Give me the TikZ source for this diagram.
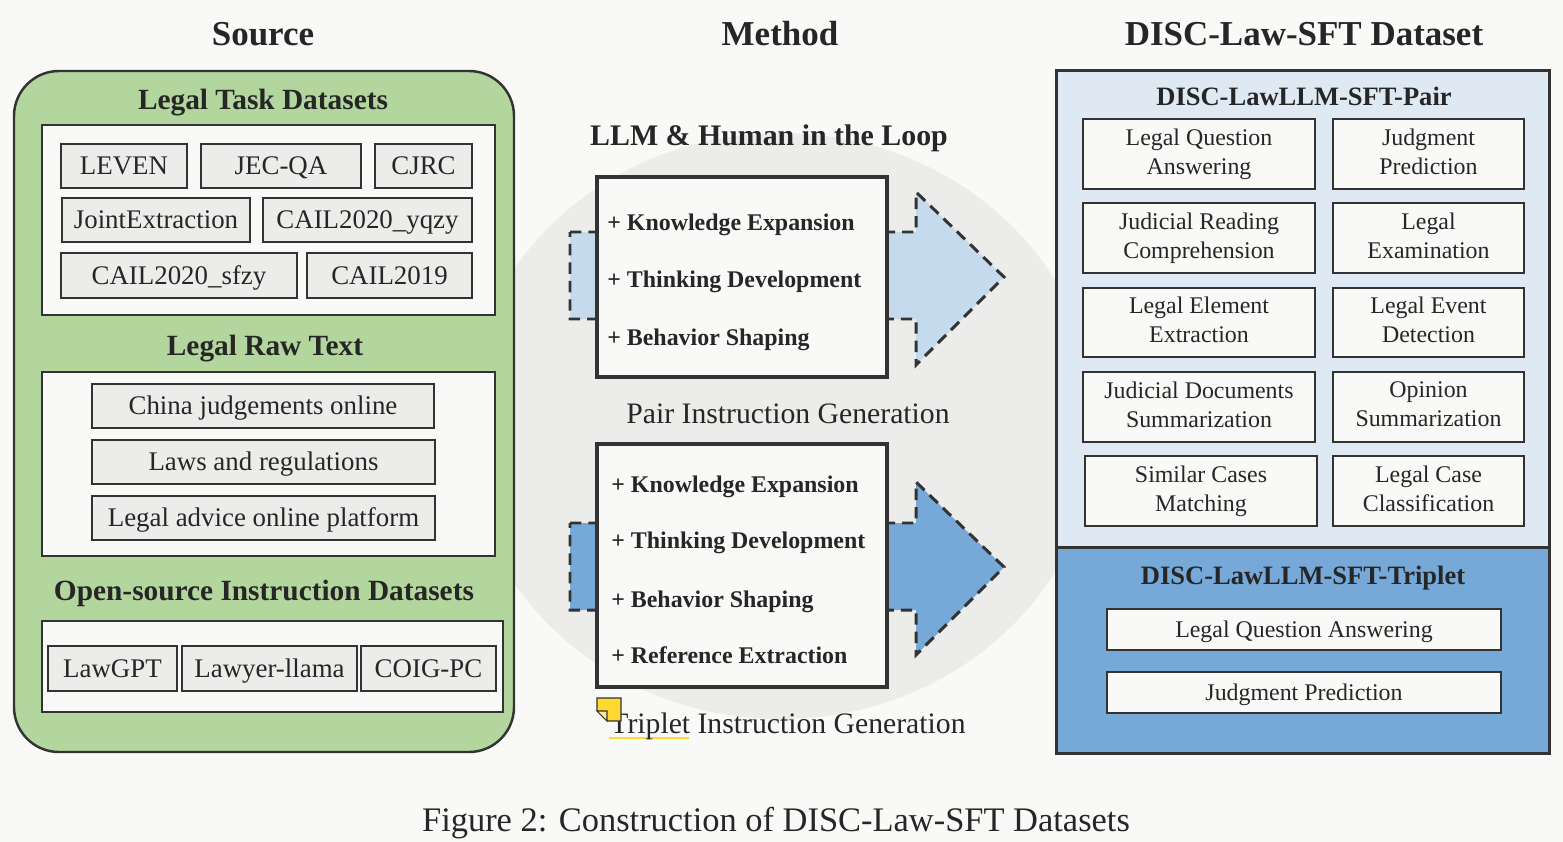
\documentclass[tikz,border=0pt]{standalone}
\usepackage{fontspec}
\setmainfont{Liberation Serif}
\usetikzlibrary{fit,shapes.geometric}
\definecolor{bg}{HTML}{F9F9F7}
\definecolor{ink}{HTML}{262626}
\definecolor{edge}{HTML}{333333}
\definecolor{greenbox}{HTML}{B3D69E}
\definecolor{itemgray}{HTML}{ECECEA}
\definecolor{circlegray}{HTML}{ECECEA}
\definecolor{lightblue}{HTML}{C5DAED}
\definecolor{midblue}{HTML}{77A9D8}
\definecolor{paleblue}{HTML}{DFE9F4}
\definecolor{notey}{HTML}{FFD92F}
\begin{document}
\begin{tikzpicture}[x=0.02cm,y=-0.02cm,
  every node/.style={text=ink},
  boxsize/.style 2 args={minimum width=#1*0.02cm, minimum height=#2*0.02cm},
  frame/.style={draw=edge, line width=1.4pt, fill=bg, inner sep=0pt},
  srcitem/.style={draw=edge, line width=1.2pt, fill=itemgray, inner sep=0pt,
    font=\fontsize{15.3}{18}\selectfont, text height=10.1pt, text depth=0pt},
  dsitem/.style={draw=edge, line width=1.3pt, fill=bg, inner sep=0pt, align=center,
    font=\fontsize{13.6}{16.4}\selectfont,
    execute at begin node={\rule{0pt}{12.8pt}}, execute at end node={\rule[-3pt]{0pt}{0pt}}},
  tripitem/.style={draw=edge, line width=1.3pt, fill=bg, inner sep=0pt,
    font=\fontsize{13.6}{16.4}\selectfont, text height=9pt, text depth=0pt},
  mbox/.style={draw=edge, line width=1.8pt, fill=bg, inner sep=0pt},
  mtext/.style={anchor=base west, inner sep=0pt, font=\fontsize{13.6}{16}\selectfont\bfseries},
  header/.style={anchor=base, inner sep=0pt, font=\fontsize{19.9}{24}\selectfont\bfseries},
  srctitle/.style={anchor=base, inner sep=0pt, font=\fontsize{16.7}{20}\selectfont\bfseries},
  looptitle/.style={anchor=base, inner sep=0pt, font=\fontsize{17}{20}\selectfont\bfseries},
  dstitle/.style={anchor=base, inner sep=0pt, font=\fontsize{15.1}{18}\selectfont\bfseries},
  gentext/.style={anchor=base, inner sep=0pt, font=\fontsize{16.9}{20}\selectfont},
  flowarrow/.style={draw=edge, line width=1.7pt, dash pattern=on 6.5pt off 4pt, miter limit=10},
]
% canvas
\fill[bg] (0,0) rectangle (1563,842);
\useasboundingbox (0,0) rectangle (1563,842);

% background loop ellipse
\node[ellipse, fill=circlegray, inner sep=0pt, minimum width=12.64cm, minimum height=11.72cm] (loopbg) at (781,426) {};

% headers
\node[header] (hsrc) at (263,45.5) {Source};
\node[header] (hmeth) at (780,45.5) {Method};
\node[header] (hds) at (1304,45.5) {DISC-Law-SFT Dataset};

% ---------------- Source ----------------
\node[draw=edge, line width=1.4pt, fill=greenbox, rounded corners=0.9cm, inner sep=0pt,
  fit={(14,71) (514,752)}] (srcpanel) {};
\node[srctitle] (tasktitle) at (263,109) {Legal Task Datasets};
\node[frame, fit={(42,125) (495,315)}] (taskframe) {};
\node[srcitem, boxsize={126}{44}] (leven) at (124,166) {LEVEN};
\node[srcitem, boxsize={160}{44}] (jecqa) at (281,166) {JEC-QA};
\node[srcitem, boxsize={97}{44}] (cjrc) at (423.5,166) {CJRC};
\node[srcitem, boxsize={188}{44}] (joint) at (156,220) {JointExtraction};
\node[srcitem, boxsize={209}{44}] (yqzy) at (367.5,220) {CAIL2020\_yqzy};
\node[srcitem, boxsize={236}{45}] (sfzy) at (179,275.5) {CAIL2020\_sfzy};
\node[srcitem, boxsize={165}{45}] (cail19) at (389.5,275.5) {CAIL2019};

\node[srctitle] (rawtitle) at (265,355) {Legal Raw Text};
\node[frame, fit={(42,372) (495,556)}] (rawframe) {};
\node[srcitem, boxsize={342}{44}] (cjo) at (263,406) {China judgements online};
\node[srcitem, boxsize={343}{44}] (laws) at (263.5,462) {Laws and regulations};
\node[srcitem, boxsize={343}{44}] (advice) at (263.5,518) {Legal advice online platform};

\node[srctitle] (opentitle) at (264,600) {Open-source Instruction Datasets};
\node[frame, fit={(42,621) (503,712)}] (openframe) {};
\node[srcitem, boxsize={129}{45}] (lawgpt) at (112.5,668.5) {LawGPT};
\node[srcitem, boxsize={175}{45}] (llama) at (269.5,668.5) {Lawyer-llama};
\node[srcitem, boxsize={135}{45}] (coig) at (428.5,668.5) {COIG-PC};

% ---------------- Method ----------------
\node[looptitle] (looptitle) at (769,145) {LLM \& Human in the Loop};

\path[fill=lightblue, flowarrow] (570,232) -- (916,232) -- (916,192) -- (1004,277)
  -- (916,365) -- (916,319) -- (570,319) -- cycle;
\node[mbox, fit={(597,177) (887,377)}] (pairbox) {};
\node[mtext] (p1) at (607,230) {+ Knowledge Expansion};
\node[mtext] (p2) at (607,287) {+ Thinking Development};
\node[mtext] (p3) at (607,345) {+ Behavior Shaping};
\node[gentext] (pairgen) at (788,423) {Pair Instruction Generation};

\path[fill=midblue, flowarrow] (570,523) -- (916,523) -- (916,482) -- (1004,567)
  -- (916,655) -- (916,610) -- (570,610) -- cycle;
\node[mbox, fit={(597,444) (887,687)}] (tripbox) {};
\node[mtext] (t1) at (611,492) {+ Knowledge Expansion};
\node[mtext] (t2) at (611,548) {+ Thinking Development};
\node[mtext] (t3) at (611,607) {+ Behavior Shaping};
\node[mtext] (t4) at (611,663) {+ Reference Extraction};

\draw[notey, line width=1.6pt] (609,738) -- (689,738);
\node[gentext] (tripgen) at (788,733) {Triplet Instruction Generation};
\path[fill=notey, draw=edge, line width=0.6pt] (597,698) -- (621,698) -- (621,721) -- (607,721) -- (597,711) -- cycle;
\path[fill=notey!55!white, draw=edge, line width=0.6pt] (597,711) -- (607,711) -- (607,721) -- cycle;

% ---------------- Dataset ----------------
\node[fill=paleblue, inner sep=0pt, fit={(1057,71) (1549,547)}] (pairpanel) {};
\node[fill=midblue, inner sep=0pt, fit={(1057,547) (1549,753)}] (trippanel) {};
\draw[edge, line width=1.4pt] (pairpanel.north west) rectangle (trippanel.south east);
\draw[edge, line width=1.4pt] (pairpanel.south west) -- (pairpanel.south east);

\node[dstitle] (pairtitle) at (1304,105) {DISC-LawLLM-SFT-Pair};
\node[dsitem, boxsize={232}{70}] (d1) at (1199,154) {Legal Question\\Answering};
\node[dsitem, boxsize={191}{70}] (d2) at (1428.5,154) {Judgment\\Prediction};
\node[dsitem, boxsize={232}{70}] (d3) at (1199,238) {Judicial Reading\\Comprehension};
\node[dsitem, boxsize={191}{70}] (d4) at (1428.5,238) {Legal\\Examination};
\node[dsitem, boxsize={232}{69}] (d5) at (1199,322.5) {Legal Element\\Extraction};
\node[dsitem, boxsize={191}{69}] (d6) at (1428.5,322.5) {Legal Event\\Detection};
\node[dsitem, boxsize={232}{70}] (d7) at (1199,407) {Judicial Documents\\Summarization};
\node[dsitem, boxsize={191}{70}] (d8) at (1428.5,407) {Opinion\\Summarization};
\node[dsitem, boxsize={232}{70}] (d9) at (1201,491) {Similar Cases\\Matching};
\node[dsitem, boxsize={191}{70}] (d10) at (1428.5,491) {Legal Case\\Classification};

\node[dstitle] (triptitle) at (1303,584) {DISC-LawLLM-SFT-Triplet};
\node[tripitem, boxsize={394}{41}] (e1) at (1304,629.5) {Legal Question Answering};
\node[tripitem, boxsize={394}{41}] (e2) at (1304,692.5) {Judgment Prediction};

% caption
\node[anchor=base, inner sep=0pt, font=\fontsize{19.6}{24}\selectfont] (caption) at (776,831)
  {Figure 2: Construction of DISC-Law-SFT Datasets};
\end{tikzpicture}
\end{document}
